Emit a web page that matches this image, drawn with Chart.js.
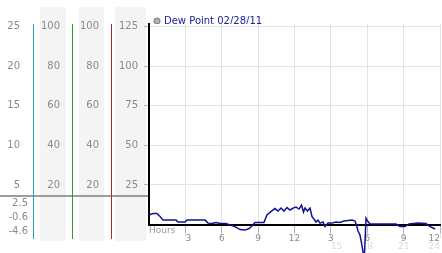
<!DOCTYPE html>
<html>
<head>
<meta charset="utf-8">
<title>Dew Point 02/28/11</title>
<script src="https://cdn.jsdelivr.net/npm/chart.js@4/dist/chart.umd.min.js"></script>
<style>
  html, body { margin: 0; padding: 0; background: #fff; }
  canvas { display: block; }
</style>
</head>
<body>
<canvas id="dewChart" width="442" height="253"></canvas>
<script>
// Dew point readings, hours since midnight
const hours = [0, 0.33, 0.66, 0.91, 1.15, 1.73, 2.23, 2.39, 2.97, 3.13,
    3.79, 4.62, 4.87, 5.2, 5.53, 5.86, 6.35, 6.68, 7.09, 7.51,
    7.92, 8.25, 8.49, 8.74, 9.15, 9.48, 9.73, 10.1, 10.39, 10.64,
    10.89, 11.13, 11.38, 11.63, 11.88, 12.12, 12.37, 12.58, 12.74, 12.87,
    13.07, 13.28, 13.44, 13.6, 13.77, 13.94, 14.1, 14.35, 14.52, 14.76,
    15.09, 15.42, 15.75, 16.08, 16.41, 16.74, 16.99, 17.11, 17.24, 17.4,
    17.53, 17.65, 17.77, 17.9, 18.06, 18.23, 19.05, 19.88, 20.37, 20.7,
    21.11, 21.44, 22.19, 22.84, 23.18, 23.6];
const dewPoint = [6, 7, 7, 5.1, 2.8, 2.8, 2.8, 1.6, 1.6, 2.8,
    2.8, 2.8, 0.9, 0.6, 1.3, 0.6, 0.6, -0.3, -1.3, -3.2,
    -3.5, -2.5, -0.9, 1.3, 1.3, 1.3, 6, 8.5, 10.1, 8.5,
    10.4, 8.5, 10.7, 9.2, 10.4, 11.1, 9.8, 12.3, 7.9, 10.4,
    8.5, 10.4, 5.1, 3.5, 1.6, 2.8, 0.9, 1.6, -1.3, 0.9,
    0.9, 1.6, 1.3, 2.2, 2.5, 2.8, 2.2, -0.3, -4.1, -6.6,
    -11.7, -17.4, -19, 4.1, 1.9, 0.3, 0.3, 0.3, 0.3, -1.3,
    -1.3, 0.3, 0.9, 0.6, -1.3, -2.8];

const hourTicks = [3, 6, 9, 12, 15, 18, 21, 24];
const secondHalfTicks = [15, 18, 21, 24];
const mainTicks = [25, 50, 75, 100, 125];
const percentTicks = [20, 40, 60, 80, 100];
const smallTicks = [5, 10, 15, 20, 25];
const lowerLabels = ['2.5', '-0.6', '-4.6'];

// visible range of the main axis and where the left panel is split
const yTop = 126.7;
const yBottom = -8.5;
const panelSplit = 18;

Chart.defaults.font.family = 'DejaVu Sans';
Chart.defaults.font.size = 10;

function fixedTicks(values) {
    return function(scale) {
        scale.ticks = values.map(v => ({ value: v }));
    };
}

function fixedWidth(w) {
    return function(scale) {
        scale.width = w;
    };
}

const labelColor = '#8a8a8a';

// grey bands behind the left columns and the divider line
const panelBackground = {
    id: 'panelBackground',
    beforeDraw(chart) {
        const ctx = chart.ctx;
        const area = chart.chartArea;
        const bands = [['c2', 7, 6], ['c3', 7, 7], ['y', 4, 3]];
        ctx.save();
        ctx.fillStyle = '#f4f4f4';
        bands.forEach(b => {
            const s = chart.scales[b[0]];
            ctx.fillRect(s.left + b[1], area.top - 17, s.right - b[2] - s.left - b[1], area.bottom - area.top + 20);
        });
        const split = chart.scales.c1.bottom;
        ctx.strokeStyle = '#9c9c9c';
        ctx.lineWidth = 2;
        ctx.beginPath();
        ctx.moveTo(0, split);
        ctx.lineTo(area.left, split);
        ctx.stroke();
        ctx.restore();
    }
};

// label offset for the left columns comes from the (hidden) tick length
function sideColumn(extra) {
    return Object.assign({
        position: 'left',
        grid: { display: false, drawTicks: true },
        ticks: { color: labelColor, padding: 0, autoSkip: false }
    }, extra);
}

const ctx = document.getElementById('dewChart').getContext('2d');
new Chart(ctx, {
    type: 'line',
    data: {
        datasets: [{
            label: 'Dew Point 02/28/11',
            data: hours.map((h, i) => ({ x: h, y: dewPoint[i] })),
            xAxisID: 'x',
            yAxisID: 'y',
            borderColor: '#12128e',
            borderWidth: 1.5,
            pointRadius: 0,
            pointBackgroundColor: '#b6b6b6',
            pointBorderColor: '#8e8e8e',
            tension: 0,
            clip: false
        }]
    },
    options: {
        responsive: false,
        animation: false,
        layout: { padding: { top: 10, right: 2, bottom: 15, left: 0 } },
        plugins: {
            tooltip: { enabled: false },
            legend: {
                position: 'top',
                align: 'start',
                fullSize: false,
                maxHeight: 14,
                labels: {
                    usePointStyle: true,
                    pointStyle: 'circle',
                    boxWidth: 4,
                    boxHeight: 4,
                    padding: 6,
                    color: '#20209a',
                    font: { size: 10 }
                }
            }
        },
        scales: {
            x: {
                type: 'linear',
                position: { y: 0 },
                min: 0,
                max: 24,
                afterBuildTicks: fixedTicks(hourTicks),
                grid: { color: '#e3e3e3', tickColor: '#b4b4b4', tickLength: 7 },
                border: { color: '#000', width: 2 },
                ticks: {
                    font: { size: 9 },
                    color: labelColor,
                    padding: 2,
                    align: 'inner',
                    maxRotation: 0,
                    callback: v => (v % 12 === 0 ? 12 : v % 12)
                },
                title: {
                    display: true,
                    text: 'Hours',
                    align: 'start',
                    color: '#9a9a9a',
                    font: { size: 9 },
                    padding: { top: -21, bottom: 0 }
                }
            },
            x2: {
                type: 'linear',
                position: { y: 0 },
                min: 0,
                max: 24,
                afterBuildTicks: fixedTicks(secondHalfTicks),
                grid: { display: false, tickLength: 17 },
                border: { display: false },
                ticks: { font: { size: 9 }, color: '#dadada', padding: 0, align: 'inner', maxRotation: 0 }
            },
            c1: sideColumn({
                type: 'linear',
                weight: 4,
                stack: 'c1',
                stackWeight: yTop - panelSplit,
                min: panelSplit / 5,
                max: yTop / 5,
                afterBuildTicks: fixedTicks(smallTicks),
                afterFit: fixedWidth(33),
                grid: { display: false, tickLength: 13 },
                border: { color: '#2aa3c8', width: 1 }
            }),
            c1low: sideColumn({
                type: 'category',
                labels: lowerLabels,
                offset: true,
                weight: 3.9,
                stack: 'c1',
                stackWeight: panelSplit - yBottom,
                afterFit: fixedWidth(33),
                grid: { display: false, tickLength: 5 },
                border: { color: '#2aa3c8', width: 1 }
            }),
            c2: sideColumn({
                type: 'linear',
                weight: 3,
                min: yBottom * 0.8,
                max: yTop * 0.8,
                afterBuildTicks: fixedTicks(percentTicks),
                afterFit: fixedWidth(39),
                grid: { display: false, tickLength: 12 },
                border: { color: '#2e9e2e', width: 1 }
            }),
            c3: sideColumn({
                type: 'linear',
                weight: 2,
                min: yBottom * 0.8,
                max: yTop * 0.8,
                afterBuildTicks: fixedTicks(percentTicks),
                afterFit: fixedWidth(39),
                grid: { display: false, tickLength: 12 },
                border: { color: '#b02a2a', width: 1 }
            }),
            y: {
                type: 'linear',
                position: 'left',
                weight: 1,
                stack: 'main',
                stackWeight: yTop,
                min: 0,
                max: yTop,
                afterBuildTicks: fixedTicks(mainTicks),
                afterFit: fixedWidth(38),
                grid: { color: '#e3e3e3', tickColor: '#b4b4b4', tickLength: 5 },
                border: { color: '#000', width: 2 },
                ticks: { color: labelColor, padding: 6 }
            },
            yLow: {
                type: 'linear',
                position: 'left',
                weight: 0.9,
                stack: 'main',
                stackWeight: -yBottom,
                min: yBottom,
                max: 0,
                afterFit: fixedWidth(38),
                grid: { display: false },
                border: { display: false },
                ticks: { display: false }
            }
        }
    },
    plugins: [panelBackground]
});
</script>
</body>
</html>
